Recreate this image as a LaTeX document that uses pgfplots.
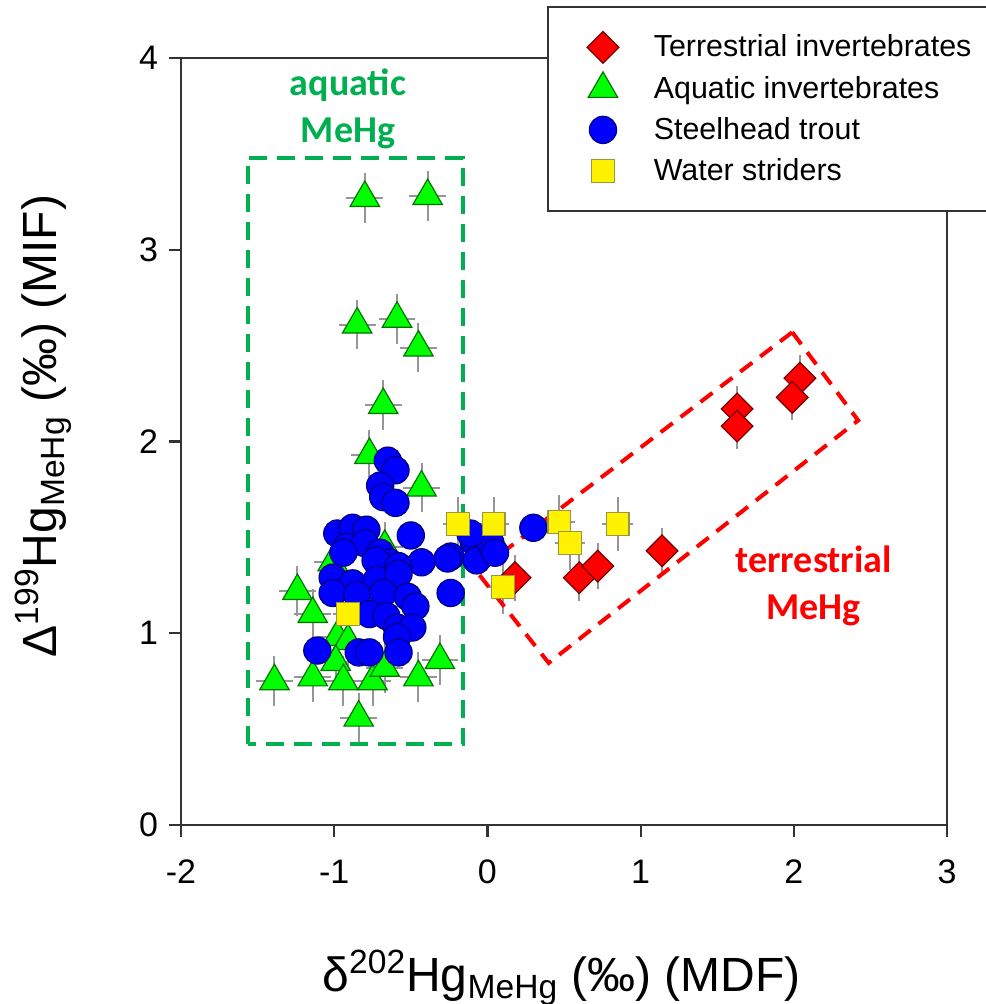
\documentclass[border=0pt]{standalone}
\usepackage{pgfplots}
\pgfplotsset{compat=1.18}
\usepackage{fontspec}
\setmainfont{Liberation Sans}
\newfontfamily\calibri{Carlito}
\definecolor{aqgreen}{RGB}{0,176,80}
\definecolor{ebgray}{RGB}{150,150,150}
\begin{document}
\begin{tikzpicture}
\begin{axis}[name=ax, scale only axis, width=383pt, height=383.5pt,
 xmin=-2, xmax=3, ymin=0, ymax=4,
 xtick={-2,-1,0,1,2,3}, xticklabels={-2,-1,0,1,2,3},
 ytick={0,1,2,3,4}, yticklabels={0,1,2,3,4},
 tick pos=left, tick align=outside, major tick length=6pt,
 axis line style={line width=1.1pt, black!80},
 every tick/.style={line width=1.1pt, black!80},
 ticklabel style={font=\fontsize{17}{20}\selectfont},
 xticklabel style={yshift=-8pt},
 yticklabel style={xshift=-2pt},
 xlabel={δ\textsuperscript{202}Hg\textsubscript{MeHg} (‰) (MDF)},
 ylabel={Δ\textsuperscript{199}Hg\textsubscript{MeHg} (‰) (MIF)},
 xlabel style={at={(axis description cs:0.497,-0.2167)}, anchor=base, font=\fontsize{24}{28}\selectfont},
 ylabel style={at={(axis description cs:-0.1619,0.52)}, anchor=base, font=\fontsize{24}{28}\selectfont},
 legend style={at={(axis description cs:0.478,1.068)}, anchor=north west, draw=black!80, line width=1pt, fill=white, font=\fontsize{15.2}{18}\selectfont, row sep=4pt, column sep=15.5pt, inner xsep=19.5pt, inner ysep=12pt},
 legend cell align=left,
 eb/.style={error bars/.cd, x dir=both, x explicit, y dir=both, y explicit, error mark=none, error bar style={color=ebgray, line width=1pt}},
]
% Terrestrial invertebrates
\addplot[only marks, mark=square*, mark size=5.6pt, mark options={rotate=45, fill=red, draw=black!55!red, line width=0.6pt}, eb] coordinates {
(0.18,1.29) +- (0.06,0.12)
(0.60,1.29) +- (0.06,0.12)
(0.72,1.35) +- (0.06,0.12)
(1.14,1.43) +- (0.06,0.12)
(1.63,2.17) +- (0.06,0.12)
(1.63,2.08) +- (0.06,0.12)
(2.04,2.33) +- (0.06,0.12)
(1.99,2.23) +- (0.06,0.12)
};
\addlegendentry{Terrestrial invertebrates}
% Aquatic invertebrates
\addplot[only marks, mark=triangle*, mark size=8.5pt, mark options={fill=green, draw=black!55!green, line width=0.6pt}, eb] coordinates {
(-0.39,3.28) +- (0.12,0.13)
(-0.80,3.27) +- (0.12,0.13)
(-0.85,2.61) +- (0.12,0.13)
(-0.59,2.64) +- (0.12,0.13)
(-0.45,2.49) +- (0.12,0.13)
(-0.68,2.19) +- (0.12,0.13)
(-0.77,1.93) +- (0.12,0.13)
(-0.43,1.76) +- (0.12,0.13)
(-1.24,1.22) +- (0.12,0.13)
(-1.14,1.10) +- (0.12,0.13)
(-0.98,0.98) +- (0.12,0.13)
(-0.91,0.96) +- (0.12,0.13)
(-0.99,0.85) +- (0.12,0.13)
(-1.39,0.75) +- (0.12,0.13)
(-1.14,0.77) +- (0.12,0.13)
(-0.94,0.75) +- (0.12,0.13)
(-0.75,0.75) +- (0.12,0.13)
(-0.67,0.82) +- (0.12,0.13)
(-0.45,0.77) +- (0.12,0.13)
(-0.31,0.86) +- (0.12,0.13)
(-0.84,0.56) +- (0.12,0.13)
(-0.67,1.45) +- (0.12,0.13)
(-1.01,1.37) +- (0.12,0.13)
};
\addlegendentry{Aquatic invertebrates}
% Steelhead trout
\addplot[only marks, mark=*, mark size=6.8pt, mark options={fill=blue, draw=black!50!blue, line width=0.6pt}] coordinates {
(-0.65,1.90) (-0.60,1.85) (-0.70,1.77) (-0.68,1.71) (-0.60,1.68)
(-0.50,1.51) (-0.98,1.52) (-0.88,1.55) (-0.79,1.54) (-0.92,1.45)
(-0.80,1.47) (-0.70,1.42) (-0.64,1.37) (-0.43,1.37) (-0.24,1.40)
(-0.94,1.42) (-0.73,1.38) (-0.58,1.35) (-1.01,1.29) (-0.88,1.26)
(-0.72,1.28) (-0.58,1.31) (-1.01,1.21) (-0.85,1.20) (-0.68,1.21)
(-0.52,1.19) (-0.47,1.14) (-0.77,1.10) (-0.66,1.09) (-0.59,1.03)
(-0.49,1.03) (-0.59,0.98) (-0.58,0.90) (-1.11,0.91) (-0.84,0.90)
(-0.77,0.90) (-0.26,1.39) (-0.24,1.21) (-0.05,1.40) (-0.09,1.48)
(0.30,1.55) (-0.07,1.38) (0.02,1.47) (-0.11,1.52) (0.05,1.42)
};
\addlegendentry{Steelhead trout}
% Water striders
\addplot[only marks, mark=square*, mark size=5.7pt, mark options={fill=yellow, draw=black!45!yellow, line width=0.6pt}, eb] coordinates {
(-0.19,1.57) +- (0.10,0.14)
(0.04,1.57) +- (0.10,0.14)
(0.47,1.58) +- (0.10,0.14)
(0.54,1.47) +- (0.10,0.14)
(0.85,1.57) +- (0.10,0.14)
(0.10,1.24) +- (0.10,0.14)
(-0.91,1.10) +- (0.10,0.14)
};
\addlegendentry{Water striders}
\draw[aqgreen, line width=2pt, dash pattern=on 9pt off 5pt] (axis cs:-1.563,0.42) rectangle (axis cs:-0.159,3.48);
\draw[red, line width=2pt, dash pattern=on 7.5pt off 5pt] (axis cs:1.99,2.57) -- (axis cs:2.42,2.11) -- (axis cs:0.40,0.845) -- (axis cs:-0.068,1.32) -- cycle;
\node[align=center, text=aqgreen, font=\calibri\bfseries\fontsize{19}{23.5}\selectfont] at (axis cs:-0.91,3.737) {aquatic\\MeHg};
\node[align=center, text=red, font=\calibri\bfseries\fontsize{19}{23.5}\selectfont] at (axis cs:2.13,1.246) {terrestrial\\MeHg};
\end{axis}
\pgfresetboundingbox
\path[use as bounding box] ([shift={(-90.5pt,-89.5pt)}]ax.south west) rectangle ([shift={(19.5pt,29pt)}]ax.north east);
\end{tikzpicture}
\end{document}
